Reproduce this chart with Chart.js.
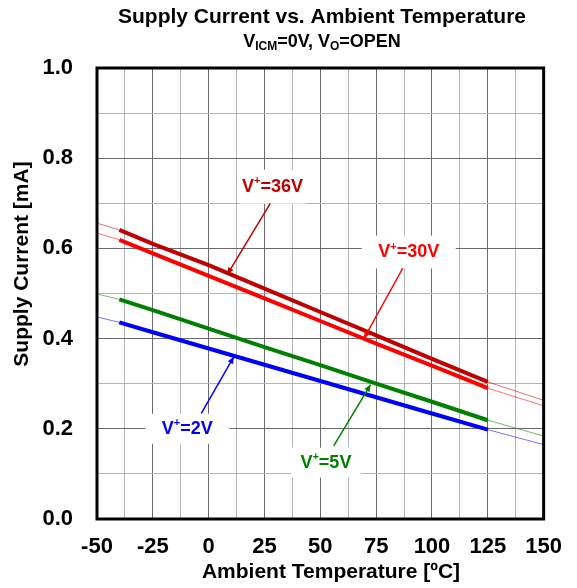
<!DOCTYPE html>
<html>
<head>
<meta charset="utf-8">
<script src="https://cdn.jsdelivr.net/npm/chart.js@4.4.1/dist/chart.umd.min.js"></script>
<style>
  html, body { margin: 0; padding: 0; background: #fff; }
</style>
</head>
<body>
<canvas id="chartSupply" width="577" height="588"></canvas>
<script>
// measured range (thick lines)
const temps = [-40, -25, 0, 25, 50, 75, 100, 125];
const current36V = [0.641, 0.610, 0.563, 0.511, 0.459, 0.407, 0.355, 0.304];
const current30V = [0.619, 0.589, 0.539, 0.489, 0.439, 0.389, 0.340, 0.290];
const current5V  = [0.487, 0.463, 0.422, 0.381, 0.341, 0.300, 0.260, 0.219];
const current2V  = [0.436, 0.414, 0.378, 0.342, 0.306, 0.270, 0.234, 0.198];

// thin extrapolated ends at -50 and 150
const extTemps = [-50, 150];
const ext36V = [0.656, 0.263];
const ext30V = [0.634, 0.251];
const ext5V  = [0.499, 0.184];
const ext2V  = [0.448, 0.165];

const seriesNames = ['36V', '30V', '5V', '2V'];
const xTickValues = [-50, -25, 0, 25, 50, 75, 100, 125, 150];
const yTickValues = [0.0, 0.2, 0.4, 0.6, 0.8, 1.0];

const colors = ['#C00000', '#FF0000', '#008000', '#0000FF'];
const thinColors = ['rgba(192,0,0,0.55)', 'rgba(255,0,0,0.55)', 'rgba(0,128,0,0.55)', 'rgba(0,0,255,0.55)'];
const allSeries = [current36V, current30V, current5V, current2V];
const allExt = [ext36V, ext30V, ext5V, ext2V];

const FONT = "'Liberation Sans', Arial, sans-serif";

function pts(xs, ys) {
  return xs.map((x, i) => ({ x: x, y: ys[i] }));
}

const datasets = [];
allSeries.forEach((vals, i) => {
  const ext = allExt[i];
  datasets.push({
    label: 'V+=' + seriesNames[i] + ' ext',
    data: [
      { x: extTemps[0], y: ext[0] }, { x: temps[0], y: vals[0] },
      { x: temps[temps.length - 1], y: null },
      { x: temps[temps.length - 1], y: vals[vals.length - 1] }, { x: extTemps[1], y: ext[1] }
    ],
    borderColor: thinColors[i],
    borderWidth: 1,
    pointRadius: 0,
    spanGaps: false,
    fill: false
  });
  datasets.push({
    label: 'V+=' + seriesNames[i],
    data: pts(temps, vals),
    borderColor: colors[i],
    borderWidth: 4,
    pointRadius: 0,
    tension: 0,
    fill: false
  });
});

// callout labels: text centre, leader start, arrow tip (data units)
const callouts = [
  { name: '36V', color: '#C00000', at: [28.6, 0.737], from: [27.6, 0.700], to: [8.3, 0.542], box: [66, 34] },
  { name: '30V', color: '#FF0000', at: [89.6, 0.592], from: [86.9, 0.556], to: [69.5, 0.400], box: [94, 33] },
  { name: '2V',  color: '#0000FF', at: [-9.6, 0.200], from: [-3.3, 0.234], to: [11.3, 0.360], box: [84, 30] },
  { name: '5V',  color: '#008000', at: [52.5, 0.125], from: [56.0, 0.162], to: [72.5, 0.298], box: [70, 30] }
];

function drawVPlus(ctx, rest, cx, cy, size) {
  const big = 'bold ' + size + 'px ' + FONT;
  const small = 'bold ' + Math.round(size * 0.62) + 'px ' + FONT;
  ctx.font = big;
  const wV = ctx.measureText('V').width;
  const wR = ctx.measureText(rest).width;
  ctx.font = small;
  const wP = ctx.measureText('+').width;
  let x = cx - (wV + wP + wR) / 2;
  ctx.textBaseline = 'middle';
  ctx.textAlign = 'left';
  ctx.font = big;
  ctx.fillText('V', x, cy);
  x += wV;
  ctx.font = small;
  ctx.fillText('+', x, cy - size * 0.3);
  x += wP;
  ctx.font = big;
  ctx.fillText(rest, x, cy);
}

const calloutPlugin = {
  id: 'callouts',
  beforeDatasetsDraw(chart) {
    const ctx = chart.ctx, xs = chart.scales.x, ys = chart.scales.y;
    ctx.save();
    ctx.fillStyle = '#fff';
    callouts.forEach(c => {
      const px = xs.getPixelForValue(c.at[0]), py = ys.getPixelForValue(c.at[1]);
      ctx.fillRect(px - c.box[0] / 2, py - c.box[1] / 2, c.box[0], c.box[1]);
    });
    ctx.restore();
  },
  afterDatasetsDraw(chart) {
    const ctx = chart.ctx, xs = chart.scales.x, ys = chart.scales.y;
    ctx.save();
    callouts.forEach(c => {
      const x0 = xs.getPixelForValue(c.from[0]), y0 = ys.getPixelForValue(c.from[1]);
      const x1 = xs.getPixelForValue(c.to[0]), y1 = ys.getPixelForValue(c.to[1]);
      ctx.strokeStyle = c.color;
      ctx.fillStyle = c.color;
      ctx.lineWidth = 1.5;
      ctx.beginPath();
      ctx.moveTo(x0, y0);
      ctx.lineTo(x1, y1);
      ctx.stroke();
      const ang = Math.atan2(y1 - y0, x1 - x0);
      const len = 7, half = 3;
      ctx.beginPath();
      ctx.moveTo(x1, y1);
      ctx.lineTo(x1 - len * Math.cos(ang) + half * Math.sin(ang), y1 - len * Math.sin(ang) - half * Math.cos(ang));
      ctx.lineTo(x1 - len * Math.cos(ang) - half * Math.sin(ang), y1 - len * Math.sin(ang) + half * Math.cos(ang));
      ctx.closePath();
      ctx.fill();
      const px = xs.getPixelForValue(c.at[0]), py = ys.getPixelForValue(c.at[1]);
      drawVPlus(ctx, '=' + c.name, px, py, 18);
    });
    // frame
    const a = chart.chartArea;
    ctx.strokeStyle = '#000';
    ctx.lineWidth = 3;
    ctx.strokeRect(a.left, a.top, a.right - a.left, a.bottom - a.top);
    ctx.restore();
  },
  afterDraw(chart) {
    const ctx = chart.ctx;
    const cx = 322;
    ctx.save();
    ctx.fillStyle = '#000';
    ctx.textAlign = 'center';
    ctx.textBaseline = 'middle';
    ctx.font = 'bold 21px ' + FONT;
    ctx.fillText('Supply Current vs. Ambient Temperature', cx, 17);
    // subtitle with subscripts
    const parts = [['V', 0], ['ICM', 1], ['=0V, V', 0], ['O', 1], ['=OPEN', 0]];
    const big = 'bold 18px ' + FONT, small = 'bold 12px ' + FONT;
    let total = 0;
    parts.forEach(p => { ctx.font = p[1] ? small : big; total += ctx.measureText(p[0]).width; });
    let x = cx - total / 2;
    ctx.textAlign = 'left';
    parts.forEach(p => {
      ctx.font = p[1] ? small : big;
      ctx.fillText(p[0], x, p[1] ? 47 : 42);
      x += ctx.measureText(p[0]).width;
    });
    // axis titles
    ctx.textAlign = 'center';
    ctx.font = 'bold 21px ' + FONT;
    ctx.fillText('Ambient Temperature [ºC]', 331, 572);
    ctx.translate(22, 264);
    ctx.rotate(-Math.PI / 2);
    ctx.fillText('Supply Current [mA]', 0, 0);
    ctx.restore();
  }
};

const configSupply = {
  type: 'line',
  data: { datasets: datasets },
  options: {
    responsive: false,
    animation: false,
    layout: { padding: { top: 68, right: 24, left: 0, bottom: 0 } },
    plugins: { legend: { display: false }, tooltip: { enabled: false }, title: { display: false } },
    scales: {
      x: {
        type: 'linear',
        min: -50, max: 150,
        afterBuildTicks: s => { s.ticks = []; for (let v = -50; v <= 150; v += 12.5) s.ticks.push({ value: v }); },
        afterFit: s => { s.height = 69; },
        grid: {
          drawTicks: false,
          color: c => (c.tick && xTickValues.includes(c.tick.value)) ? '#6a6a6a' : '#b4b4b4',
          lineWidth: 1
        },
        border: { display: false },
        ticks: {
          autoSkip: false, maxRotation: 0, padding: 15,
          color: '#000',
          font: { family: FONT, size: 22, weight: 'bold' },
          callback: v => xTickValues.includes(v) ? String(v) : ''
        },
        title: { display: false }
      },
      y: {
        min: 0, max: 1,
        afterBuildTicks: s => { s.ticks = []; for (let k = 0; k <= 10; k++) s.ticks.push({ value: k / 10 }); },
        afterFit: s => { s.width = 97; },
        grid: {
          drawTicks: false,
          color: c => (c.tick && Math.round(c.tick.value * 10) % 2 === 0) ? '#6a6a6a' : '#b4b4b4',
          lineWidth: 1
        },
        border: { display: false },
        ticks: {
          autoSkip: false, padding: 24,
          color: '#000',
          font: { family: FONT, size: 22, weight: 'bold' },
          callback: v => yTickValues.some(t => Math.abs(t - v) < 1e-6) ? v.toFixed(1) : ''
        },
        title: { display: false }
      }
    }
  },
  plugins: [calloutPlugin]
};

const chartSupply = document.getElementById('chartSupply');
var myChartSupply = new Chart(chartSupply, configSupply);
</script>
</body>
</html>
